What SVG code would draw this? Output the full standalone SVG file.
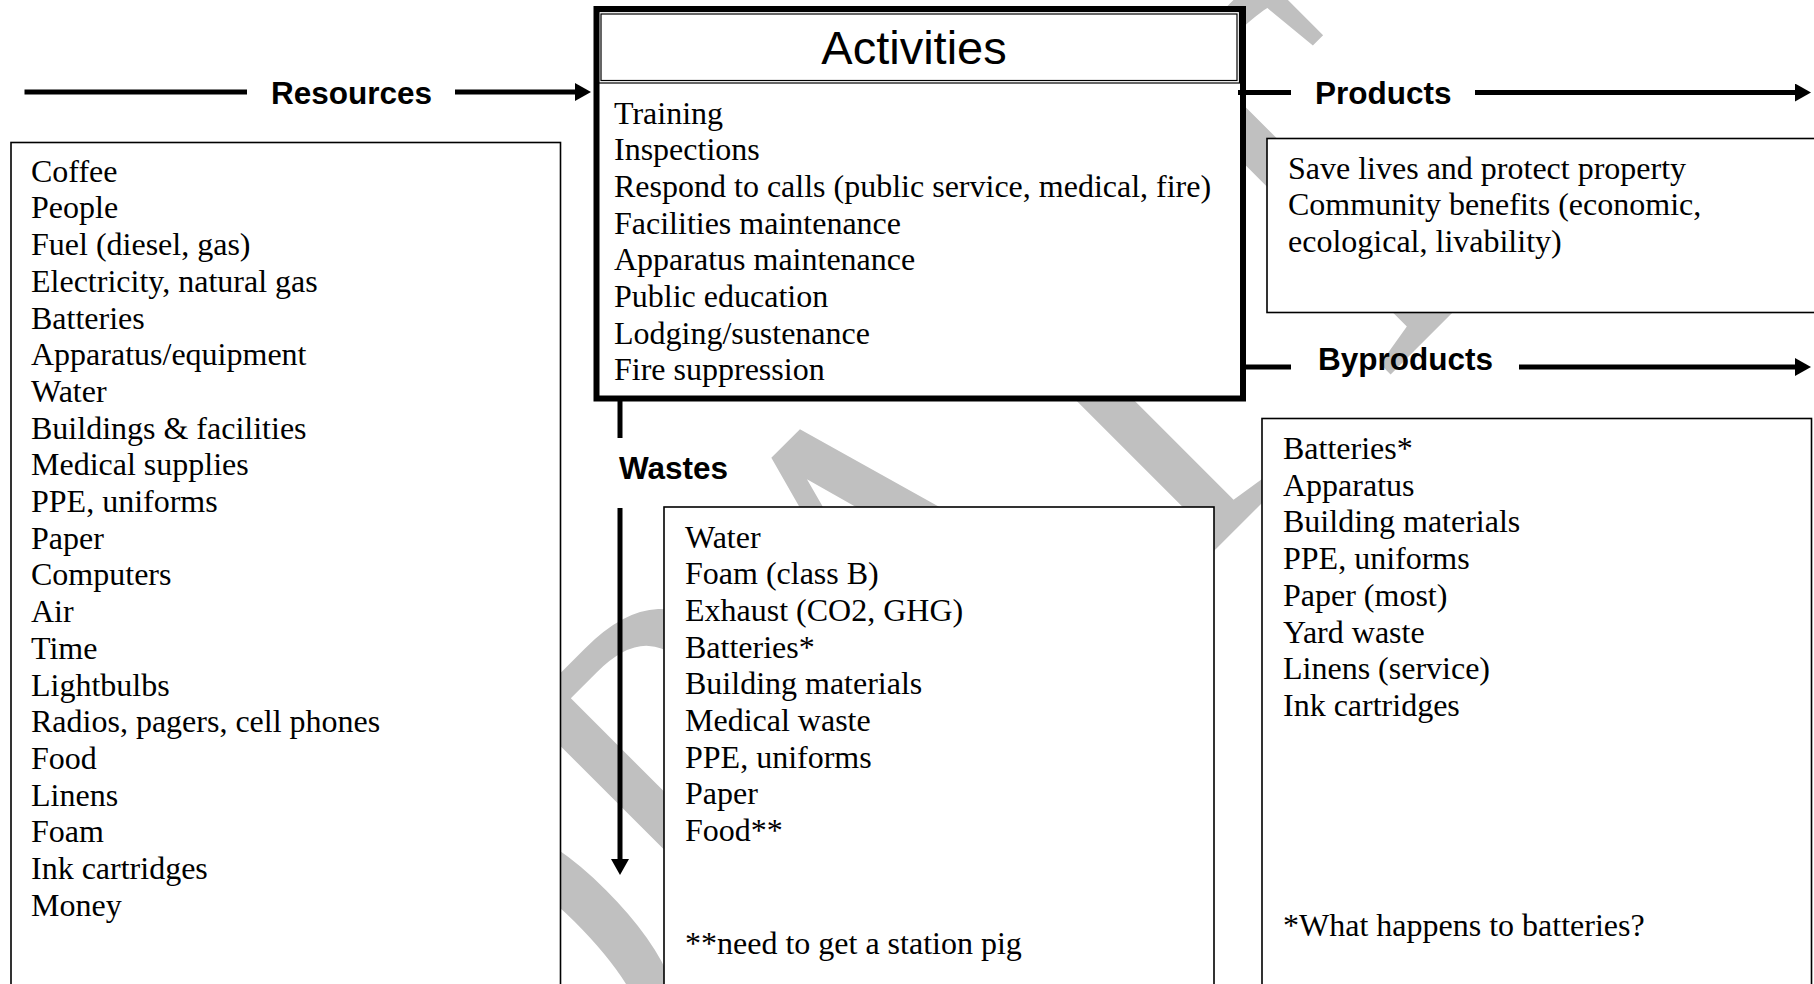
<svg xmlns="http://www.w3.org/2000/svg" width="1814" height="984" viewBox="0 0 1814 984">
<style>
.box{fill:#fff;stroke:#000;stroke-width:1.6}
.thick{fill:#fff;stroke:#000;stroke-width:6}
.hdr{fill:none;stroke:#000;stroke-width:1.2}
.serif{font-family:"Liberation Serif","Times New Roman",serif;font-size:32px;fill:#000}
.lbl{font-family:"Liberation Sans",Arial,sans-serif;font-weight:bold;font-size:31.5px;fill:#000}
.title{font-family:"Liberation Sans",Arial,sans-serif;font-size:47px;fill:#000}
.ln{stroke:#000;stroke-width:5;fill:none}
.wm{font-family:"Liberation Serif","Times New Roman",serif;font-size:574px;fill:#c0c0c0}
</style>
<defs>
<marker id="ah" markerUnits="userSpaceOnUse" markerWidth="16" markerHeight="18" refX="8" refY="9" orient="auto">
<path d="M0,0 L16,9 L0,18 z" fill="#000"/>
</marker>
</defs>
<rect width="1814" height="984" fill="#fff"/>
<g id="watermark">
<text class="wm" transform="translate(530,1235) rotate(-45) scale(0.76,1)">D<tspan dx="4">R</tspan><tspan dx="-30">A</tspan><tspan dx="34">F</tspan><tspan dx="-26">T</tspan></text>
</g>
<g id="resources">
<rect class="box" x="11" y="142.5" width="549.5" height="900"/>
<text class="serif">
<tspan x="31" y="181.7">Coffee</tspan>
<tspan x="31" y="218.4">People</tspan>
<tspan x="31" y="255.1">Fuel (diesel, gas)</tspan>
<tspan x="31" y="291.8">Electricity, natural gas</tspan>
<tspan x="31" y="328.5">Batteries</tspan>
<tspan x="31" y="365.2">Apparatus/equipment</tspan>
<tspan x="31" y="401.9">Water</tspan>
<tspan x="31" y="438.6">Buildings &amp; facilities</tspan>
<tspan x="31" y="475.3">Medical supplies</tspan>
<tspan x="31" y="512">PPE, uniforms</tspan>
<tspan x="31" y="548.7">Paper</tspan>
<tspan x="31" y="585.4">Computers</tspan>
<tspan x="31" y="622.1">Air</tspan>
<tspan x="31" y="658.8">Time</tspan>
<tspan x="31" y="695.5">Lightbulbs</tspan>
<tspan x="31" y="732.2">Radios, pagers, cell phones</tspan>
<tspan x="31" y="768.9">Food</tspan>
<tspan x="31" y="805.6">Linens</tspan>
<tspan x="31" y="842.3">Foam</tspan>
<tspan x="31" y="879">Ink cartridges</tspan>
<tspan x="31" y="915.7">Money</tspan>
</text>
</g>
<g id="activities">
<rect class="thick" x="596.5" y="9" width="646.5" height="389.5"/>
<rect class="hdr" x="598.5" y="11.5" width="641" height="71.5"/>
<rect class="hdr" x="601" y="14" width="636" height="66.5"/>
<text class="title" x="914" y="63.5" text-anchor="middle">Activities</text>
<text class="serif">
<tspan x="614" y="123.5">Training</tspan>
<tspan x="614" y="160.2">Inspections</tspan>
<tspan x="614" y="196.9">Respond to calls (public service, medical, fire)</tspan>
<tspan x="614" y="233.6">Facilities maintenance</tspan>
<tspan x="614" y="270.3">Apparatus maintenance</tspan>
<tspan x="614" y="307">Public education</tspan>
<tspan x="614" y="343.7">Lodging/sustenance</tspan>
<tspan x="614" y="380.4">Fire suppression</tspan>
</text>
</g>
<g id="products">
<rect class="box" x="1267" y="138.5" width="600" height="174"/>
<text class="serif">
<tspan x="1288" y="178.5">Save lives and protect property</tspan>
<tspan x="1288" y="215.2">Community benefits (economic,</tspan>
<tspan x="1288" y="251.9">ecological, livability)</tspan>
</text>
</g>
<g id="byproducts">
<rect class="box" x="1262" y="418.5" width="549.5" height="600"/>
<text class="serif">
<tspan x="1283" y="459">Batteries*</tspan>
<tspan x="1283" y="495.7">Apparatus</tspan>
<tspan x="1283" y="532.4">Building materials</tspan>
<tspan x="1283" y="569.1">PPE, uniforms</tspan>
<tspan x="1283" y="605.8">Paper (most)</tspan>
<tspan x="1283" y="642.5">Yard waste</tspan>
<tspan x="1283" y="679.2">Linens (service)</tspan>
<tspan x="1283" y="715.9">Ink cartridges</tspan>
<tspan x="1283" y="936">*What happens to batteries?</tspan>
</text>
</g>
<g id="wastes">
<rect class="box" x="664" y="507" width="550" height="520"/>
<text class="serif">
<tspan x="685" y="547.5">Water</tspan>
<tspan x="685" y="584.2">Foam (class B)</tspan>
<tspan x="685" y="620.9">Exhaust (CO2, GHG)</tspan>
<tspan x="685" y="657.6">Batteries*</tspan>
<tspan x="685" y="694.3">Building materials</tspan>
<tspan x="685" y="731">Medical waste</tspan>
<tspan x="685" y="767.7">PPE, uniforms</tspan>
<tspan x="685" y="804.4">Paper</tspan>
<tspan x="685" y="841.1">Food**</tspan>
<tspan x="685" y="954">**need to get a station pig</tspan>
</text>
</g>
<g id="connectors">
<line class="ln" x1="24.5" y1="92" x2="247" y2="92"/>
<line class="ln" x1="455" y1="92" x2="583" y2="92" marker-end="url(#ah)"/>
<text class="lbl" x="271" y="103.5">Resources</text>
<line class="ln" x1="1238" y1="92.5" x2="1291" y2="92.5"/>
<line class="ln" x1="1475" y1="92.5" x2="1803" y2="92.5" marker-end="url(#ah)"/>
<text class="lbl" x="1315" y="104">Products</text>
<line class="ln" x1="1245" y1="367" x2="1291" y2="367"/>
<line class="ln" x1="1519" y1="367" x2="1803" y2="367" marker-end="url(#ah)"/>
<text class="lbl" x="1318" y="370">Byproducts</text>
<line class="ln" x1="620" y1="401" x2="620" y2="438"/>
<line class="ln" x1="620" y1="508" x2="620" y2="867" marker-end="url(#ah)"/>
<text class="lbl" x="619" y="479">Wastes</text>
</g>
</svg>
